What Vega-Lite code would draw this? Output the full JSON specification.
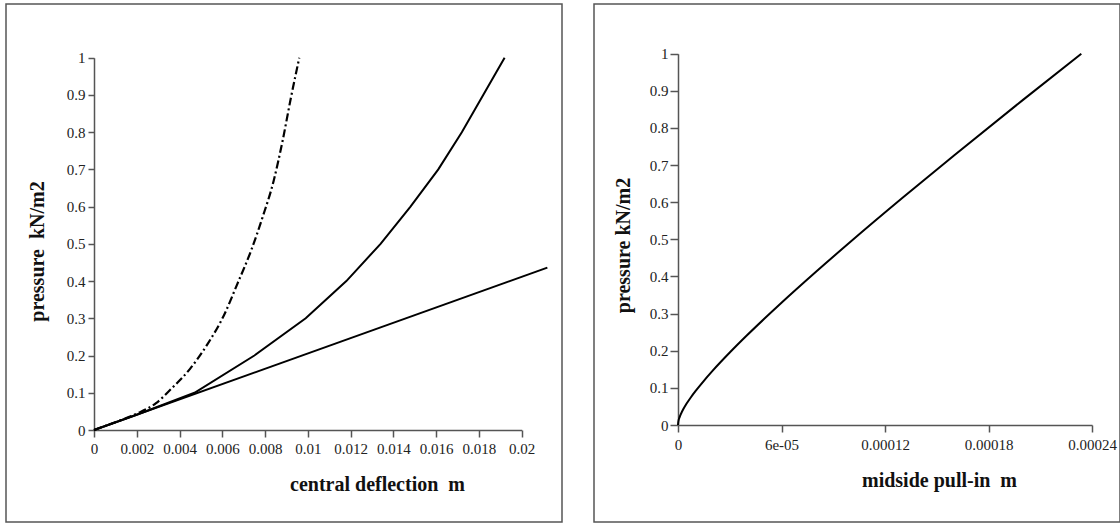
{
  "$schema": "https://vega.github.io/schema/vega-lite/v6.json",
  "padding": {"left": 5, "top": 3, "right": 3, "bottom": 2},
  "spacing": 30,
  "background": "white",
  "config": {
    "view": {"stroke": "#555", "strokeWidth": 1.5},
    "font": "Liberation Serif",
    "axis": {
      "grid": false,
      "labelFlush": false,
      "labelOverlap": false,
      "domainColor": "#555",
      "domainWidth": 1.5,
      "tickColor": "#555",
      "tickWidth": 1.5,
      "tickSize": 6,
      "labelFont": "Liberation Serif",
      "labelFontSize": 15,
      "labelColor": "#222",
      "labelPadding": 3,
      "titleFont": "Liberation Serif",
      "titleFontSize": 20,
      "titleFontWeight": "bold",
      "titleColor": "#111"
    }
  },
  "datasets": {
    "linear": [
      {"d": 0, "p": 0},
      {"d": 0.0212, "p": 0.436}
    ],
    "nonlinear": [
      {"d": 0, "p": 0},
      {"d": 0.002, "p": 0.041},
      {"d": 0.0047, "p": 0.1},
      {"d": 0.0075, "p": 0.2},
      {"d": 0.0099, "p": 0.3},
      {"d": 0.0118, "p": 0.4},
      {"d": 0.0134, "p": 0.5},
      {"d": 0.0148, "p": 0.6},
      {"d": 0.0161, "p": 0.7},
      {"d": 0.0172, "p": 0.8},
      {"d": 0.0182, "p": 0.9},
      {"d": 0.0192, "p": 1.0}
    ],
    "dashdot": [
      {"d": 0, "p": 0},
      {"d": 0.001, "p": 0.021},
      {"d": 0.002, "p": 0.044},
      {"d": 0.0029, "p": 0.072},
      {"d": 0.0036, "p": 0.11},
      {"d": 0.0045, "p": 0.165},
      {"d": 0.0053, "p": 0.23},
      {"d": 0.0061, "p": 0.311},
      {"d": 0.0067, "p": 0.392},
      {"d": 0.00734, "p": 0.481},
      {"d": 0.00788, "p": 0.571},
      {"d": 0.0084, "p": 0.669},
      {"d": 0.00882, "p": 0.777},
      {"d": 0.00921, "p": 0.893},
      {"d": 0.0096, "p": 1.0}
    ],
    "pullin": [
      {"d": 0, "p": 0},
      {"d": 0.0000002, "p": 0.0091},
      {"d": 0.000001, "p": 0.022},
      {"d": 0.0000025, "p": 0.0376},
      {"d": 0.000005, "p": 0.0577},
      {"d": 0.0000075, "p": 0.0748},
      {"d": 0.00001, "p": 0.0904},
      {"d": 0.000015, "p": 0.1191},
      {"d": 0.00002, "p": 0.1457},
      {"d": 0.00003, "p": 0.1951},
      {"d": 0.00004, "p": 0.2416},
      {"d": 0.00005, "p": 0.2861},
      {"d": 0.00006, "p": 0.3293},
      {"d": 0.00008, "p": 0.4127},
      {"d": 0.0001, "p": 0.4935},
      {"d": 0.00013, "p": 0.6112},
      {"d": 0.00016, "p": 0.7259},
      {"d": 0.0002, "p": 0.8757},
      {"d": 0.0002338, "p": 1.0}
    ]
  },
  "hconcat": [
    {
      "width": 556,
      "height": 518,
      "encoding": {
        "x": {
          "field": "d",
          "type": "quantitative",
          "scale": {"domain": [0, 0.02], "range": [88, 515.7], "nice": false, "zero": false},
          "axis": {
            "values": [0, 0.002, 0.004, 0.006, 0.008, 0.01, 0.012, 0.014, 0.016, 0.018, 0.02],
            "format": "~g",
            "offset": -92,
            "tickSize": 7,
            "labelPadding": 4,
            "title": "central deflection\u00a0 m",
            "titleX": 371,
            "titleY": 60,
            "titleAlign": "center",
            "titleBaseline": "alphabetic"
          }
        },
        "y": {
          "field": "p",
          "type": "quantitative",
          "scale": {"domain": [0, 1], "range": [426, 53.7], "nice": false, "zero": false},
          "axis": {
            "values": [0, 0.1, 0.2, 0.3, 0.4, 0.5, 0.6, 0.7, 0.8, 0.9, 1],
            "format": "~g",
            "offset": -88,
            "title": "pressure\u00a0 kN/m2",
            "titleX": -57,
            "titleY": 247,
            "titleAlign": "center",
            "titleBaseline": "middle",
            "titleAngle": -90
          }
        }
      },
      "layer": [
        {"data": {"name": "linear"}, "mark": {"type": "line", "color": "black", "strokeWidth": 2, "clip": false}},
        {"data": {"name": "nonlinear"}, "mark": {"type": "line", "color": "black", "strokeWidth": 2}},
        {"data": {"name": "dashdot"}, "mark": {"type": "line", "color": "black", "strokeWidth": 2.2, "interpolate": "monotone", "strokeDash": [8, 3, 2, 3]}}
      ]
    },
    {
      "width": 526,
      "height": 518,
      "data": {"name": "pullin"},
      "mark": {"type": "line", "color": "black", "strokeWidth": 2, "interpolate": "monotone"},
      "encoding": {
        "x": {
          "field": "d",
          "type": "quantitative",
          "scale": {"domain": [0, 0.00024], "range": [84, 498], "nice": false, "zero": false},
          "axis": {
            "values": [0, 0.00006, 0.00012, 0.00018, 0.00024],
            "labelExpr": "datum.value == 0 ? '0' : datum.value < 0.0001 ? '6e-05' : datum.value < 0.00015 ? '0.00012' : datum.value < 0.0002 ? '0.00018' : '0.00024'",
            "offset": -97,
            "tickSize": 7,
            "labelPadding": 5,
            "title": "midside pull-in\u00a0 m",
            "titleX": 345,
            "titleY": 61,
            "titleAlign": "center",
            "titleBaseline": "alphabetic"
          }
        },
        "y": {
          "field": "p",
          "type": "quantitative",
          "scale": {"domain": [0, 1], "range": [421, 49.7], "nice": false, "zero": false},
          "axis": {
            "values": [0, 0.1, 0.2, 0.3, 0.4, 0.5, 0.6, 0.7, 0.8, 0.9, 1],
            "format": "~g",
            "offset": -84,
            "tickSize": 8,
            "labelPadding": 2,
            "title": "pressure kN/m2",
            "titleX": -55,
            "titleY": 241,
            "titleAlign": "center",
            "titleBaseline": "middle",
            "titleAngle": -90
          }
        }
      }
    }
  ]
}
